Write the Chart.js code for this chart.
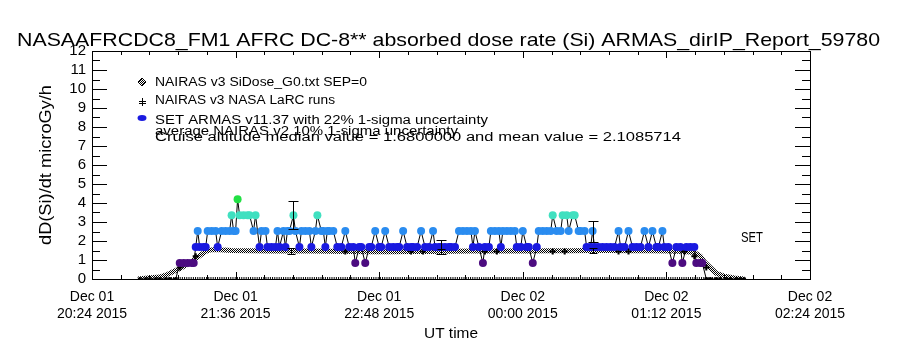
<!DOCTYPE html>
<html>
<head>
<meta charset="utf-8">
<script src="https://cdn.jsdelivr.net/npm/chart.js@4.4.1/dist/chart.umd.min.js"></script>
<style>
  html, body { margin: 0; padding: 0; background: #fff; }
  #wrap { width: 900px; height: 350px; position: relative; }
</style>
</head>
<body>
<div id="wrap"><canvas id="doseChart"></canvas></div>
<script>
// x values are minutes after Dec 01 2015 20:24 UT
const xTickLabels = [
  ["Dec 01", "20:24 2015"], ["Dec 01", "21:36 2015"], ["Dec 01", "22:48 2015"],
  ["Dec 02", "00:00 2015"], ["Dec 02", "01:12 2015"], ["Dec 02", "02:24 2015"]
];
const xStep = 72;

// SET ARMAS v11.37 absorbed dose rate, microGy/h
const armasTime = [
  24, 27, 29, 32, 34, 37, 39, 42,
  44, 46, 48, 50, 51, 52, 53, 54, 56, 57,
  58, 60, 62, 63, 65, 67, 69, 70, 71, 72, 73, 74, 76, 78, 79, 81, 82, 84, 85, 87, 88, 90,
  92, 93, 94, 96, 97, 98, 99, 101, 102, 104, 105, 107, 109, 110, 112, 113, 115, 116, 117, 118,
  119, 121, 123, 125, 127, 129, 131, 132, 134, 135, 137, 139, 140, 142, 144, 145, 147, 149, 151, 153,
  154, 156, 158, 160, 161, 163, 165, 167, 169, 171, 172, 174, 175, 177, 179, 180, 182,
  184, 186, 188, 190, 191, 192, 194, 196, 197, 199, 200, 202, 204, 205, 206, 208, 210, 212, 213, 215,
  216, 218, 219, 221, 223, 224, 226, 228, 230, 231, 233, 235, 236, 238, 239, 241, 242, 244, 245, 247,
  248, 250, 251, 252, 254, 256, 258, 260, 262, 264, 265, 267, 269, 271, 273, 275, 277, 279, 281, 283,
  284, 286, 287, 289, 291, 293, 295, 296, 298, 300, 302, 303, 305, 306,
  308, 310, 313, 315, 318, 320, 323, 325, 327
];
const armasDose = [
  0, 0, 0, 0, 0, 0, 0, 0,
  0.84, 0.84, 0.84, 0.84, 0.84, 1.68, 2.52, 1.68, 1.68, 1.68,
  2.52, 2.52, 2.52, 1.68, 2.52, 2.52, 2.52, 3.36, 2.52, 2.52, 4.2, 3.36, 3.36, 3.36, 3.36, 2.52, 3.36, 1.68, 2.52, 2.52, 1.68, 1.68,
  1.68, 2.52, 1.68, 2.52, 1.68, 2.52, 2.52, 3.36, 2.52, 1.68, 2.52, 2.52, 2.52, 1.68, 2.52, 3.36, 2.52, 2.52, 1.68, 2.52,
  2.52, 2.52, 1.68, 1.68, 2.52, 1.68, 1.68, 0.84, 1.68, 1.68, 0.84, 1.68, 1.68, 2.52, 1.68, 1.68, 2.52, 1.68, 1.68, 1.68,
  1.68, 2.52, 1.68, 1.68, 1.68, 1.68, 2.52, 1.68, 1.68, 2.52, 1.68, 1.68, 1.68, 1.68, 1.68, 1.68, 1.68,
  2.52, 2.52, 2.52, 2.52, 1.68, 2.52, 1.68, 0.84, 1.68, 1.68, 2.52, 2.52, 2.52, 1.68, 2.52, 2.52, 2.52, 2.52, 1.68, 1.68,
  2.52, 1.68, 1.68, 0.84, 1.68, 2.52, 2.52, 2.52, 2.52, 3.36, 2.52, 2.52, 3.36, 3.36, 2.52, 3.36, 3.36, 2.52, 2.52, 2.52,
  1.68, 1.68, 2.52, 1.68, 1.68, 1.68, 1.68, 1.68, 1.68, 2.52, 1.68, 1.68, 2.52, 1.68, 1.68, 1.68, 2.52, 1.68, 2.52, 1.68,
  1.68, 2.52, 1.68, 1.68, 0.84, 1.68, 1.68, 0.84, 1.68, 1.68, 1.68, 0.84, 0.84, 0.84,
  0, 0, 0, 0, 0, 0, 0, 0, 0
];

// NAIRAS v3 SiDose_G0.txt SEP=0
const nairasTime = [
  23, 28, 34, 38, 42, 45, 48, 51, 53, 55, 57, 59, 62, 66, 70, 80, 90, 100, 110, 120,
  130, 140, 150, 160, 170, 180, 190, 200, 210, 220, 230, 240, 250, 260, 270, 280, 290, 297,
  302, 305, 307, 310, 313, 317, 322, 327
];
const nairasDose = [
  0, 0.05, 0.1, 0.25, 0.45, 0.6, 0.8, 1.0, 1.15, 1.3, 1.45, 1.52, 1.55, 1.52, 1.5, 1.49, 1.48, 1.47, 1.47, 1.46,
  1.45, 1.44, 1.44, 1.45, 1.45, 1.46, 1.47, 1.47, 1.48, 1.48, 1.49, 1.49, 1.5, 1.5, 1.49, 1.49, 1.48, 1.45,
  1.4, 1.2, 0.9, 0.6, 0.3, 0.15, 0.05, 0
];

// NAIRAS v3 NASA LaRC runs
const larcTime = [44, 52, 127, 160, 166, 197, 203, 231, 237, 264, 269, 297, 302, 308];
const larcDose = [0.6, 1.2, 1.45, 1.45, 1.45, 1.45, 1.45, 1.45, 1.45, 1.45, 1.45, 1.45, 1.2, 0.6];

// points carrying uncertainty bars
const armasErrTime = [101, 175, 251];
const armasErrDose = [3.36, 1.68, 2.52];
const armasSigma = 0.22;
const nairasErrTime = [100, 175, 251];
const nairasErrDose = [1.47, 1.45, 1.5];
const nairasSigma = 0.10;

// span of the data time marks along the bottom
const markTime = [23, 326];

const levelColors = { 0: '#000000', 0.84: '#4c0c80', 1.68: '#1a1ae0', 2.52: '#2a8cf0', 3.36: '#40e0c0', 4.2: '#22e044' };

function toPoints(xs, ys) {
  return xs.map((t, i) => ({ x: t, y: ys[i] }));
}

// dithered grey like the IDL diamond band
const patCanvas = document.createElement('canvas');
patCanvas.width = 2; patCanvas.height = 2;
const pctx = patCanvas.getContext('2d');
pctx.fillStyle = '#fff'; pctx.fillRect(0, 0, 2, 2);
pctx.fillStyle = '#000'; pctx.fillRect(0, 0, 1, 1); pctx.fillRect(1, 1, 1, 1);
const ditherPattern = pctx.createPattern(patCanvas, 'repeat');

function fitText(ctx, text, left, y, width) {
  const w = ctx.measureText(text).width;
  ctx.save();
  ctx.translate(left, y);
  ctx.scale(width / w, 1);
  ctx.textAlign = 'left';
  ctx.fillText(text, 0, 0);
  ctx.restore();
}

const decorations = {
  id: 'decorations',
  afterDatasetsDraw(chart) {
    const { ctx, scales: { x, y } } = chart;
    ctx.save();
    ctx.strokeStyle = '#000';
    ctx.lineWidth = 1;
    const bar = (t, v, frac, cap) => {
      const px = Math.round(x.getPixelForValue(t)) + 0.5;
      const y1 = Math.round(y.getPixelForValue(v * (1 + frac))) + 0.5;
      const y2 = Math.round(y.getPixelForValue(v * (1 - frac))) + 0.5;
      ctx.beginPath();
      ctx.moveTo(px, y1); ctx.lineTo(px, y2);
      ctx.moveTo(px - cap, y1); ctx.lineTo(px + cap, y1);
      ctx.moveTo(px - cap, y2); ctx.lineTo(px + cap, y2);
      ctx.stroke();
    };
    armasErrTime.forEach((t, i) => bar(t, armasErrDose[i], armasSigma, 5));
    nairasErrTime.forEach((t, i) => bar(t, nairasErrDose[i], nairasSigma, 4));
    ctx.restore();
  },
  afterDraw(chart) {
    const { ctx, chartArea: a, scales: { x, y } } = chart;
    ctx.save();
    ctx.strokeStyle = '#000';
    ctx.fillStyle = '#000';
    ctx.lineWidth = 1;
    ctx.strokeRect(a.left + 0.5, a.top + 0.5, a.right - a.left, a.bottom - a.top);

    // inward ticks, IDL style
    ctx.beginPath();
    for (let i = 0; i <= 24; i++) {
      const v = i / 2;
      const py = Math.round(y.getPixelForValue(v)) + 0.5;
      const len = i % 2 === 0 ? 15 : 8;
      ctx.moveTo(a.left, py); ctx.lineTo(a.left + len, py);
      ctx.moveTo(a.right, py); ctx.lineTo(a.right - len, py);
    }
    for (let i = 0; i <= 25; i++) {
      const t = i * xStep / 5;
      const px = Math.round(x.getPixelForValue(t)) + 0.5;
      const len = i % 5 === 0 ? 7 : 4;
      ctx.moveTo(px, a.bottom); ctx.lineTo(px, a.bottom - len);
      ctx.moveTo(px, a.top); ctx.lineTo(px, a.top + len);
    }
    ctx.stroke();

    ctx.textBaseline = 'alphabetic';
    ctx.font = '19px "Liberation Sans"';
    fitText(ctx, 'NASAAFRCDC8_FM1 AFRC DC-8** absorbed dose rate (Si) ARMAS_dirIP_Report_59780', 17, 46, 863);

    ctx.font = '15px "Liberation Sans"';
    fitText(ctx, 'UT time', 424, 338, 54);

    ctx.save();
    ctx.translate(51, 165);
    ctx.rotate(-Math.PI / 2);
    ctx.font = '16px "Liberation Sans"';
    fitText(ctx, 'dD(Si)/dt microGy/h', -80, 0, 160);
    ctx.restore();

    // legend
    ctx.font = '12px "Liberation Sans"';
    fitText(ctx, 'NAIRAS v3 SiDose_G0.txt SEP=0', 155, 86, 212);
    fitText(ctx, 'NAIRAS v3 NASA LaRC runs', 155, 104, 180);
    fitText(ctx, 'SET ARMAS v11.37 with 22% 1-sigma uncertainty', 155, 124, 333);
    fitText(ctx, 'average NAIRAS v2 10% 1-sigma uncertainty', 155, 135, 303);
    fitText(ctx, 'Cruise altitude median value = 1.6800000 and mean value = 2.1085714', 155, 141, 526);
    ctx.font = '14px "Liberation Sans"';
    fitText(ctx, 'SET', 741, 242, 22);

    // legend symbols
    ctx.beginPath();
    ctx.moveTo(142, 78); ctx.lineTo(146, 82); ctx.lineTo(142, 86); ctx.lineTo(138, 82); ctx.closePath();
    ctx.fillStyle = ditherPattern; ctx.fill(); ctx.stroke();
    ctx.beginPath();
    ctx.moveTo(142.5, 98); ctx.lineTo(142.5, 106);
    ctx.moveTo(139, 101.5); ctx.lineTo(146, 101.5);
    ctx.moveTo(139, 103.5); ctx.lineTo(146, 103.5);
    ctx.stroke();
    ctx.beginPath();
    ctx.ellipse(142, 118, 4.5, 3, 0, 0, Math.PI * 2);
    ctx.fillStyle = levelColors[1.68]; ctx.fill();
    ctx.restore();
  }
};

window.addEventListener('DOMContentLoaded', () => {
  const ctx = document.getElementById('doseChart').getContext('2d');

  new Chart(ctx, {
    type: 'scatter',
    data: {
      datasets: [
        {
          label: 'SET ARMAS v11.37',
          data: toPoints(armasTime, armasDose),
          showLine: true,
          borderColor: '#000',
          borderWidth: 1,
          pointStyle: 'circle',
          pointRadius: c => (c.raw && c.raw.y === 0 ? 2 : 4),
          pointBorderWidth: 0,
          pointBackgroundColor: c => levelColors[c.raw ? c.raw.y : 1.68] || '#000',
          pointBorderColor: c => levelColors[c.raw ? c.raw.y : 1.68] || '#000'
        },
        {
          label: 'NAIRAS v3 NASA LaRC runs',
          data: toPoints(larcTime, larcDose),
          showLine: false,
          pointStyle: 'cross',
          pointRadius: 3,
          pointBorderWidth: 2,
          pointBorderColor: '#000'
        },
        {
          label: 'NAIRAS v3 SiDose_G0.txt SEP=0',
          data: toPoints(nairasTime, nairasDose),
          showLine: true,
          borderColor: ditherPattern,
          borderWidth: 5,
          pointRadius: 0
        },
        {
          label: 'time marks',
          data: toPoints(markTime, [0, 0]),
          showLine: true,
          borderColor: '#000',
          borderWidth: 4,
          borderDash: [1, 1.2],
          pointRadius: 0
        }
      ]
    },
    options: {
      responsive: true,
      maintainAspectRatio: false,
      animation: false,
      layout: { padding: { top: 51, right: 90, left: 0, bottom: 0 } },
      plugins: { legend: { display: false }, tooltip: { enabled: false } },
      scales: {
        x: {
          type: 'linear',
          min: 0,
          max: 360,
          grid: { display: false, drawTicks: false },
          border: { display: false },
          ticks: {
            stepSize: xStep,
            autoSkip: false,
            maxRotation: 0,
            padding: 10,
            color: '#000',
            font: { family: 'Liberation Sans', size: 14, lineHeight: 1.2 },
            callback: v => xTickLabels[Math.round(v / xStep)]
          },
          afterFit: s => { s.height = 71; }
        },
        y: {
          min: 0,
          max: 12,
          grid: { display: false, drawTicks: false },
          border: { display: false },
          ticks: {
            stepSize: 1,
            autoSkip: false,
            padding: 6,
            color: '#000',
            font: { family: 'Liberation Sans', size: 15 }
          },
          afterFit: s => { s.width = 92; }
        }
      }
    },
    plugins: [decorations]
  });
});
</script>
</body>
</html>
